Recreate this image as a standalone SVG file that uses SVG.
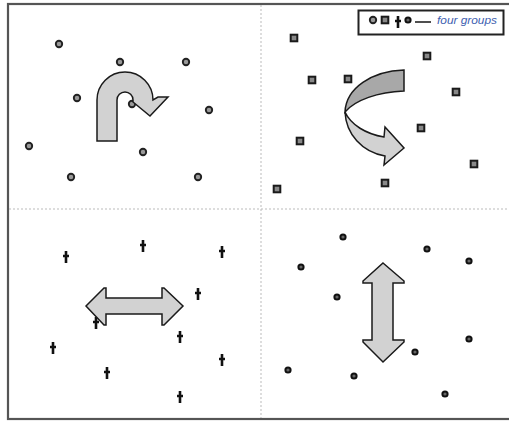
<svg xmlns="http://www.w3.org/2000/svg" width="509" height="421" viewBox="0 0 509 421">
<style>
.frame{fill:none;stroke:#555;stroke-width:2.2}
.div{stroke:#bbb;stroke-width:1;stroke-dasharray:2,2;fill:none}
.c1{fill:#999;stroke:#222;stroke-width:1.9}
.sq{fill:#888;stroke:#1a1a1a;stroke-width:2}
.dg{stroke:#111;stroke-width:2.6;fill:none}
.dt{fill:#666;stroke:#111;stroke-width:2}
.arr{fill:#d2d2d2;stroke:#1a1a1a;stroke-width:1.5;stroke-linejoin:miter}
.arrd{fill:#a8a8a8;stroke:#1a1a1a;stroke-width:1.5}
.lbl{font-family:"Liberation Sans",Arial,sans-serif;font-size:10px;font-style:italic;fill:#4060b0}
</style>
<defs>
<circle id="c" r="3.2" class="c1"/>
<rect id="s" x="-3.3" y="-3.3" width="6.6" height="6.6" class="sq"/>
<path id="d" d="M0,-6 V6 M-3,-1 H3" class="dg"/>
<circle id="p" r="2.6" class="dt"/>
</defs>
<rect class="frame" x="8" y="4" width="510" height="415"/>
<g id="dividers">
<line class="div" x1="261" y1="5" x2="261" y2="418"/>
<line class="div" x1="9" y1="209" x2="509" y2="209"/>
</g>
<g id="group-circles">
<use href="#c" x="59" y="44"/><use href="#c" x="120" y="62"/><use href="#c" x="186" y="62"/>
<use href="#c" x="77" y="98"/><use href="#c" x="132" y="104"/><use href="#c" x="209" y="110"/>
<use href="#c" x="29" y="146"/><use href="#c" x="143" y="152"/><use href="#c" x="71" y="177"/>
<use href="#c" x="198" y="177"/>
</g>
<g id="uturn-arrow">
<path class="arr" d="M97,141 L97,100 A28,28 0 0 1 153,100 L158,97 L168,97 L150,116 L133,102 L133,100 A8,8 0 0 0 117,100 L117,141 Z"/>
</g>
<g id="group-squares">
<use href="#s" x="294" y="38"/><use href="#s" x="427" y="56"/><use href="#s" x="312" y="80"/>
<use href="#s" x="348" y="79"/><use href="#s" x="456" y="92"/><use href="#s" x="421" y="128"/>
<use href="#s" x="300" y="141"/><use href="#s" x="474" y="164"/><use href="#s" x="385" y="183"/>
<use href="#s" x="277" y="189"/>
</g>
<g id="curved-arrow">
<path class="arr" d="M345,112 C346,134 362,152 385,156 L384,165 L404,148 L385,127 L384,137 C366,134 351,125 345,112 Z"/>
<path class="arrd" d="M404,70 C372,71 346,88 345,112 C355,100 378,92 404,91 Z"/>
</g>
<g id="group-daggers">
<use href="#d" x="66" y="257"/><use href="#d" x="143" y="246"/><use href="#d" x="222" y="252"/>
<use href="#d" x="198" y="294"/><use href="#d" x="96" y="323"/><use href="#d" x="180" y="337"/>
<use href="#d" x="53" y="348"/><use href="#d" x="222" y="360"/><use href="#d" x="107" y="373"/>
<use href="#d" x="180" y="397"/>
</g>
<g id="horizontal-arrow">
<path class="arr" d="M86,306 L104,288 L106,288 L106,298 L162,298 L162,288 L164,288 L183,306 L164,325 L162,325 L162,314 L106,314 L106,325 L104,325 Z"/>
</g>
<g id="group-dots">
<use href="#p" x="343" y="237"/><use href="#p" x="427" y="249"/><use href="#p" x="469" y="261"/>
<use href="#p" x="301" y="267"/><use href="#p" x="337" y="297"/><use href="#p" x="469" y="339"/>
<use href="#p" x="415" y="352"/><use href="#p" x="288" y="370"/><use href="#p" x="354" y="376"/>
<use href="#p" x="445" y="394"/>
</g>
<g id="vertical-arrow">
<path class="arr" d="M383,263 L404,281 L404,283 L393,283 L393,340 L404,340 L404,342 L383,362 L363,342 L363,340 L372,340 L372,283 L363,283 L363,281 Z"/>
</g>
<g id="legend">
<rect x="358.5" y="10.5" width="145" height="24" fill="#fff" stroke="#222" stroke-width="2"/>
<use href="#c" x="373" y="20"/>
<use href="#s" x="385" y="20"/>
<use href="#d" x="398" y="22"/>
<use href="#p" x="408" y="20"/>
<line x1="415" y1="22" x2="431" y2="22" stroke="#222" stroke-width="1.6"/>
<text class="lbl" x="437" y="24" textLength="60" lengthAdjust="spacingAndGlyphs">four groups</text>
</g>
</svg>
